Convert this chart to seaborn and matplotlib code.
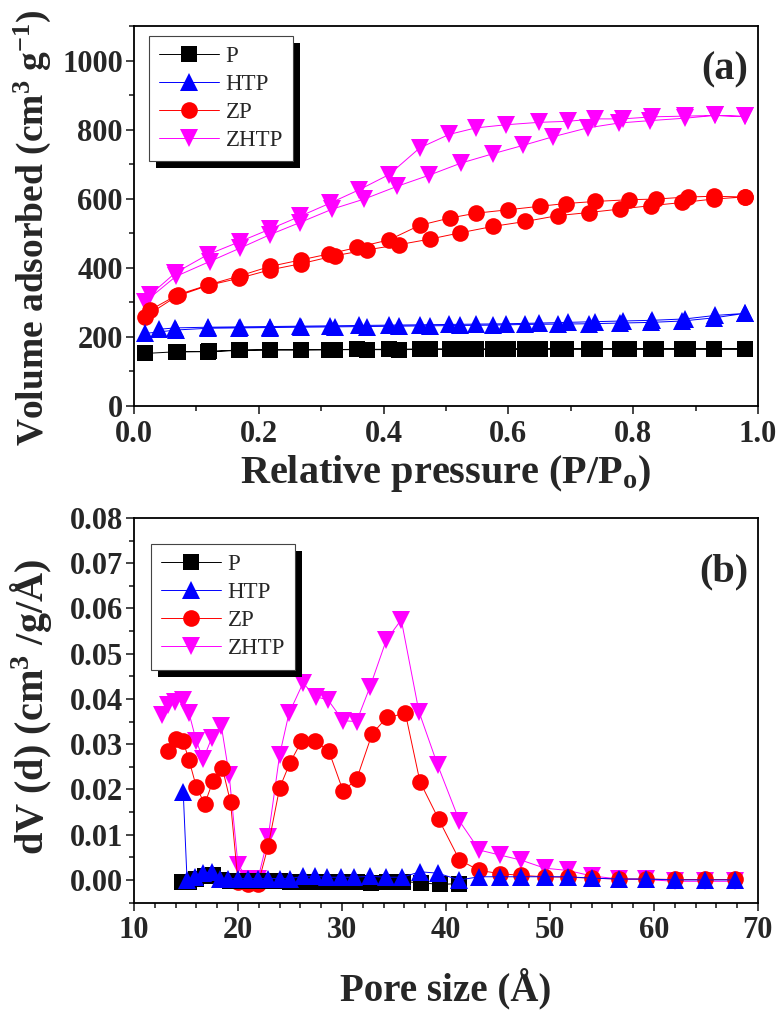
import numpy as np
import pandas as pd
import seaborn as sns
import matplotlib.pyplot as plt
from matplotlib.lines import Line2D
from matplotlib.patches import Rectangle
from matplotlib.ticker import MultipleLocator

# ---------------- data: (a) N2 isotherms (adsorption then desorption) ----------------
p_ads_p = [0.018, 0.068, 0.119, 0.169, 0.218, 0.268, 0.322, 0.374, 0.425, 0.474,
           0.522, 0.576, 0.627, 0.679, 0.729, 0.779, 0.829, 0.879, 0.929, 0.979]
p_ads_v = [152, 157, 157, 161, 162, 162, 163, 163, 163, 164,
           164, 164, 165, 165, 165, 165, 165, 165, 165, 165]
p_des_p = [0.979, 0.929, 0.888, 0.837, 0.793, 0.739, 0.692, 0.650, 0.600, 0.548,
           0.506, 0.458, 0.409, 0.358, 0.312, 0.268, 0.218, 0.170, 0.120, 0.070]
p_des_v = [165, 165, 165, 165, 165, 165, 165, 165, 165, 165,
           165, 165, 164, 164, 163, 163, 163, 162, 158, 157]

htp_ads_p = [0.018, 0.068, 0.119, 0.169, 0.218, 0.268, 0.322, 0.374, 0.425, 0.474,
             0.522, 0.576, 0.627, 0.679, 0.729, 0.779, 0.829, 0.879, 0.929, 0.979]
htp_ads_v = [210, 220, 225, 226, 227, 228, 229, 230, 231, 232,
             233, 234, 236, 237, 238, 240, 242, 246, 255, 268]
htp_des_p = [0.979, 0.931, 0.883, 0.831, 0.783, 0.739, 0.695, 0.649, 0.596, 0.548,
             0.505, 0.458, 0.409, 0.361, 0.314, 0.266, 0.218, 0.170, 0.118, 0.066, 0.040]
htp_des_v = [268, 262, 252, 248, 246, 244, 242, 240, 238, 237,
             236, 235, 234, 233, 232, 231, 230, 229, 228, 226, 222]

zp_ads_p = [0.018, 0.068, 0.119, 0.169, 0.218, 0.268, 0.322, 0.374, 0.425, 0.474,
            0.522, 0.576, 0.627, 0.679, 0.729, 0.779, 0.829, 0.879, 0.929, 0.979]
zp_ads_v = [259, 317, 349, 370, 394, 412, 435, 452, 467, 483,
            501, 520, 534, 551, 560, 570, 580, 589, 599, 605]
zp_des_p = [0.979, 0.929, 0.888, 0.837, 0.793, 0.739, 0.692, 0.650, 0.600, 0.548,
            0.506, 0.458, 0.409, 0.358, 0.312, 0.268, 0.218, 0.170, 0.120, 0.070, 0.026]
zp_des_v = [605, 607, 605, 599, 597, 592, 586, 578, 568, 558,
            544, 523, 481, 459, 440, 423, 404, 377, 351, 322, 278]

zhtp_ads_p = [0.018, 0.067, 0.121, 0.170, 0.218, 0.266, 0.318, 0.369, 0.422, 0.473,
              0.524, 0.575, 0.623, 0.671, 0.727, 0.777, 0.827, 0.883, 0.931, 0.979]
zhtp_ads_v = [302, 375, 418, 457, 496, 531, 570, 599, 636, 668,
              703, 730, 754, 779, 805, 819, 826, 833, 841, 838]
zhtp_des_p = [0.979, 0.931, 0.883, 0.831, 0.783, 0.739, 0.695, 0.649, 0.596, 0.548,
              0.505, 0.458, 0.409, 0.361, 0.314, 0.266, 0.218, 0.170, 0.118, 0.066, 0.026]
zhtp_des_v = [838, 841, 839, 837, 831, 831, 824, 821, 814, 805,
              786, 747, 670, 626, 587, 549, 512, 476, 438, 385, 322]

# ---------------- data: (b) pore size distribution ----------------
p_d = [14.6, 15.3, 16.0, 16.8, 17.6, 18.4, 19.2, 20.0, 21.0, 21.9, 22.9, 24.0,
       25.0, 26.1, 27.4, 28.7, 30.0, 31.4, 32.8, 34.3, 35.9, 37.6, 39.4, 41.3]
p_dv = [-0.0004, -0.0004, 0.0003, 0.0008, 0.0012, 0.0, -0.0002, -0.0002, -0.0003, -0.0003, -0.0003, -0.0003,
        -0.0004, -0.0004, -0.0004, -0.0004, -0.0004, -0.0004, -0.0006, -0.0004, -0.0004, -0.0006, -0.0010, -0.0008]

htp_d = [14.73, 15.1, 15.86, 16.65, 17.46, 18.26, 19.07, 20.0, 21.0, 21.9, 22.9, 24.0,
         25.0, 26.25, 27.4, 28.6, 29.9, 31.2, 32.7, 34.2, 35.8, 37.5, 39.2, 41.3,
         43.2, 45.2, 47.2, 49.5, 51.7, 54.0, 56.6, 59.2, 62.0, 64.9, 67.8]
htp_dv = [0.0195, 0.0, 0.0007, 0.0015, 0.0018, 0.0003, 0.0003, 0.0003, 0.0003, 0.0003, 0.0003, 0.0003,
          0.0003, 0.0008, 0.0008, 0.0006, 0.0006, 0.0006, 0.0008, 0.0006, 0.0006, 0.0018, 0.0015, 0.0,
          0.0007, 0.0007, 0.0007, 0.0007, 0.0007, 0.0004, 0.0002, 0.0002, 0.0, 0.0, 0.0]

zp_d = [13.3, 14.03, 14.73, 15.3, 16.0, 16.8, 17.6, 18.5, 19.28, 20.0, 20.97, 21.93,
        22.9, 24.0, 25.0, 26.1, 27.4, 28.75, 30.1, 31.4, 32.9, 34.3, 36.1, 37.5, 39.3,
        41.3, 43.2, 45.2, 47.2, 49.5, 51.7, 54.0, 56.6, 59.2, 62.0, 64.9, 67.8]
zp_dv = [0.0284, 0.0311, 0.0306, 0.0264, 0.0205, 0.0168, 0.0219, 0.0247, 0.0172, -0.0004, -0.0009, -0.0009,
         0.0075, 0.0203, 0.0259, 0.0306, 0.0308, 0.0284, 0.0197, 0.0222, 0.0323, 0.0359, 0.0368, 0.0217, 0.0134,
         0.0044, 0.0021, 0.0014, 0.0010, 0.0007, 0.0006, 0.0004, 0.0002, 0.0002, 0.0001, 0.0001, 0.0001]

zhtp_d = [12.66, 13.3, 13.94, 14.67, 15.3, 16.0, 16.66, 17.46, 18.4, 19.15, 20.0, 21.0, 21.9,
          22.9, 24.0, 24.9, 26.25, 27.47, 28.65, 30.1, 31.4, 32.7, 34.26, 35.7, 37.4, 39.2,
          41.3, 43.2, 45.2, 47.2, 49.5, 51.7, 54.0, 56.6, 59.2, 62.0, 64.9, 67.8]
zhtp_dv = [0.0365, 0.0387, 0.0394, 0.0398, 0.0368, 0.0306, 0.0267, 0.0313, 0.0340, 0.0232, 0.0033, 0.0002, 0.0001,
           0.0094, 0.0276, 0.0368, 0.0435, 0.0405, 0.0398, 0.0352, 0.0350, 0.0427, 0.0530, 0.0575, 0.0372, 0.0254,
           0.0130, 0.0066, 0.0055, 0.0044, 0.0026, 0.0021, 0.0009, 0.0002, 0.0001, -0.0003, -0.0003, -0.0003]

samples = ['P', 'HTP', 'ZP', 'ZHTP']
colors = {'P': '#000000', 'HTP': '#0000ff', 'ZP': '#ff0000', 'ZHTP': '#ff00ff'}
markers = {'P': 's', 'HTP': '^', 'ZP': 'o', 'ZHTP': 'v'}
zorders = {'ZHTP': 2, 'ZP': 3, 'P': 4, 'HTP': 5}
ms = {'P': 11.5, 'HTP': 12.5, 'ZP': 12, 'ZHTP': 12.5}

# long-form tables
iso = pd.concat([
    pd.DataFrame({'x': p_ads_p + p_des_p, 'y': p_ads_v + p_des_v, 'sample': 'P'}),
    pd.DataFrame({'x': htp_ads_p + htp_des_p, 'y': htp_ads_v + htp_des_v, 'sample': 'HTP'}),
    pd.DataFrame({'x': zp_ads_p + zp_des_p, 'y': zp_ads_v + zp_des_v, 'sample': 'ZP'}),
    pd.DataFrame({'x': zhtp_ads_p + zhtp_des_p, 'y': zhtp_ads_v + zhtp_des_v, 'sample': 'ZHTP'}),
], ignore_index=True)
psd = pd.concat([
    pd.DataFrame({'x': p_d, 'y': p_dv, 'sample': 'P'}),
    pd.DataFrame({'x': htp_d, 'y': htp_dv, 'sample': 'HTP'}),
    pd.DataFrame({'x': zp_d, 'y': zp_dv, 'sample': 'ZP'}),
    pd.DataFrame({'x': zhtp_d, 'y': zhtp_dv, 'sample': 'ZHTP'}),
], ignore_index=True)

sns.set_style('ticks')
plt.rcParams['font.family'] = ['Liberation Serif', 'DejaVu Serif']
plt.rcParams['mathtext.fontset'] = 'custom'
plt.rcParams['mathtext.rm'] = 'Liberation Serif:bold'
plt.rcParams['mathtext.it'] = 'Liberation Serif:bold'
plt.rcParams['mathtext.bf'] = 'Liberation Serif:bold'

fig = plt.figure(figsize=(7.76, 10.18), dpi=100)
ax1 = fig.add_axes([0.1727, 0.6012, 0.804, 0.3733])
ax2 = fig.add_axes([0.1727, 0.1134, 0.804, 0.3778])


def draw(ax, df):
    for s in ['ZHTP', 'ZP', 'P', 'HTP']:
        sub = df[df['sample'] == s]
        sns.lineplot(data=sub, x='x', y='y', ax=ax, sort=False, estimator=None,
                     color=colors[s], lw=0.7, marker=markers[s], markersize=ms[s],
                     markeredgewidth=0, markeredgecolor=colors[s],
                     zorder=zorders[s], legend=False)


def style(ax):
    for sp in ax.spines.values():
        sp.set_linewidth(1.3)
        sp.set_color('black')
    ax.tick_params(which='both', direction='out', top=False, right=False,
                   width=1.2, labelsize=22, pad=2)
    ax.tick_params(axis='x', which='both', pad=4)
    ax.tick_params(which='major', length=6)
    ax.tick_params(which='minor', length=3.5)
    for lab in ax.get_xticklabels() + ax.get_yticklabels():
        lab.set_fontweight('bold')


def add_legend(ax, anchor):
    handles = [Line2D([], [], color=colors[s], lw=0.7, marker=markers[s],
                      markersize=ms[s], markeredgewidth=0) for s in samples]
    leg = ax.legend(handles, samples, loc='upper left', bbox_to_anchor=anchor,
                    borderaxespad=0, fancybox=False, frameon=True, framealpha=1,
                    fontsize=16.5, handlelength=2.6, handletextpad=0.3,
                    labelspacing=0.3, borderpad=0.45)
    leg.get_frame().set_edgecolor('#444444')
    leg.get_frame().set_linewidth(0.8)
    leg.set_zorder(10)
    return leg


# (a)
draw(ax1, iso)
ax1.set_xlim(0, 1.0)
ax1.set_ylim(0, 1100)
ax1.xaxis.set_minor_locator(MultipleLocator(0.1))
ax1.yaxis.set_major_locator(MultipleLocator(200))
ax1.yaxis.set_minor_locator(MultipleLocator(100))
ax1.set_xticks([0.0, 0.2, 0.4, 0.6, 0.8, 1.0])
ax1.set_xticklabels(['0.0', '0.2', '0.4', '0.6', '0.8', '1.0'])
style(ax1)
ax1.set_xlabel('Relative pressure (P/P$_{\\mathregular{o}}$)', fontsize=29, fontweight='bold')
ax1.set_ylabel('Volume adsorbed (cm$^{3}$ g$^{-1}$)', fontsize=27, fontweight='bold')
ax1.xaxis.set_label_coords(0.5, -0.125)
ax1.yaxis.set_label_coords(-0.13, 0.47)
ax1.text(0.984, 0.885, '(a)', transform=ax1.transAxes, ha='right', va='center',
         fontsize=29, fontweight='bold')
leg1 = add_legend(ax1, (0.024, 0.974))

# (b)
draw(ax2, psd)
ax2.set_xlim(10, 70)
ax2.set_ylim(-0.005, 0.08)
ax2.xaxis.set_major_locator(MultipleLocator(10))
ax2.xaxis.set_minor_locator(MultipleLocator(2))
ax2.yaxis.set_minor_locator(MultipleLocator(0.005))
ax2.set_yticks([0.0, 0.01, 0.02, 0.03, 0.04, 0.05, 0.06, 0.07, 0.08])
ax2.set_yticklabels(['0.00', '0.01', '0.02', '0.03', '0.04', '0.05', '0.06', '0.07', '0.08'])
style(ax2)
ax2.set_xlabel('Pore size (Å)', fontsize=28, fontweight='bold')
ax2.set_ylabel('dV (d) (cm$^{3}$ /g/Å)', fontsize=29, fontweight='bold')
ax2.xaxis.set_label_coords(0.5, -0.17)
ax2.yaxis.set_label_coords(-0.128, 0.51)
ax2.text(0.984, 0.86, '(b)', transform=ax2.transAxes, ha='right', va='center',
         fontsize=29, fontweight='bold')
leg2 = add_legend(ax2, (0.027, 0.932))

# black drop shadow behind each legend box
fig.canvas.draw()
for ax, leg in [(ax1, leg1), (ax2, leg2)]:
    bb = leg.get_window_extent()
    bb = bb.translated(7, -7)
    bb = ax.transAxes.inverted().transform_bbox(bb)
    ax.add_patch(Rectangle((bb.x0, bb.y0), bb.width, bb.height, transform=ax.transAxes,
                           facecolor='black', edgecolor='none', zorder=9, clip_on=False))

fig.savefig('out.png', dpi=100)
